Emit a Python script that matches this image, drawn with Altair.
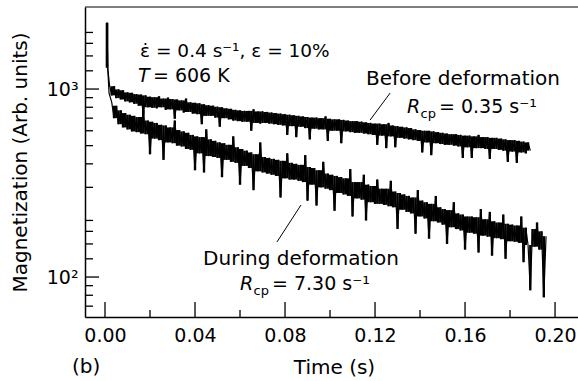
import altair as alt
import pandas as pd

# ---------------- data ----------------
STEP = 0.001  # sampling interval of the traces (s)

spike_t = [0.0009, 0.0012, 0.0018]
spike_v = [2250, 1300, 950]

upper_start = 0.002  # "Before deformation"
upper_v = [
    1050, 925, 1035, 895, 995, 880, 985, 860, 960, 850,
    955, 835, 940, 815, 935, 730, 925, 800, 910, 795,
    905, 790, 915, 800, 890, 775, 900, 780, 885, 695,
    880, 770, 870, 750, 890, 755, 850, 740, 845, 735,
    840, 650, 830, 720, 820, 720, 815, 705, 805, 630,
    800, 700, 790, 690, 785, 680, 775, 675, 770, 670,
    765, 670, 765, 600, 780, 660, 760, 655, 760, 660,
    755, 655, 750, 650, 745, 645, 740, 640, 735, 570,
    730, 635, 725, 555, 720, 630, 715, 620, 710, 540,
    705, 615, 705, 610, 700, 610, 715, 530, 695, 600,
    690, 600, 690, 515, 685, 595, 680, 590, 675, 585,
    675, 585, 670, 580, 665, 575, 660, 570, 655, 505,
    655, 565, 650, 485, 660, 560, 640, 490, 635, 550,
    630, 545, 625, 540, 620, 535, 610, 530, 605, 460,
    600, 520, 600, 445, 595, 515, 590, 510, 585, 505,
    580, 505, 575, 500, 575, 495, 570, 430, 565, 490,
    565, 430, 560, 485, 570, 485, 555, 480, 555, 425,
    550, 480, 550, 475, 545, 470, 540, 410, 535, 465,
    535, 405, 530, 460, 525, 455, 520, 470,
]

lower_start = 0.003  # "During deformation"
lower_v = [
    850, 700, 815, 650, 770, 625, 745, 610, 730, 595,
    720, 590, 710, 580, 770, 575, 680, 450, 670, 545,
    660, 535, 645, 420, 640, 520, 625, 515, 680, 500,
    605, 495, 595, 480, 585, 475, 570, 370, 560, 455,
    555, 360, 610, 440, 540, 435, 530, 430, 520, 340,
    515, 420, 505, 410, 560, 405, 490, 310, 480, 390,
    470, 380, 460, 290, 450, 365, 520, 360, 435, 355,
    430, 350, 425, 345, 420, 265, 415, 335, 455, 330,
    405, 330, 400, 325, 395, 320, 445, 255, 385, 310,
    380, 240, 370, 300, 410, 295, 355, 290, 350, 225,
    345, 280, 340, 275, 335, 270, 375, 210, 320, 262,
    320, 258, 350, 200, 310, 250, 305, 245, 330, 245,
    295, 242, 295, 238, 325, 235, 285, 180, 280, 228,
    275, 222, 270, 218, 265, 170, 290, 210, 255, 205,
    250, 160, 245, 198, 270, 195, 235, 190, 230, 150,
    227, 184, 250, 180, 218, 177, 215, 140, 210, 172,
    210, 170, 208, 135, 230, 166, 203, 164, 222, 130,
    198, 161, 195, 159, 215, 125, 192, 155, 190, 154,
    188, 152, 210, 120, 183, 148, 85, 180, 145, 195,
    140, 175, 78, 165,
]

x_ticks_major = [0.0, 0.04, 0.08, 0.12, 0.16, 0.20]
x_ticks_minor = [0.02, 0.06, 0.10, 0.14, 0.18]
y_ticks_major = [100, 1000]
y_ticks_minor = [70, 80, 90, 125, 150, 175, 200, 300, 400, 500, 600,
                 700, 800, 900, 1250, 1500, 1750, 2000]

X_DOMAIN = [-0.00889, 0.2102]
Y_DOMAIN = [61.3, 2731]
W, H = 493, 310
FONT = "DejaVu Sans"

# ---------------- tables ----------------
rows = []
for t, v in zip(spike_t[:2], spike_v[:2]):
    rows.append({"t": t, "v": v, "s": "before"})
for i, v in enumerate(upper_v):
    rows.append({"t": round(upper_start + i * STEP, 4), "v": v, "s": "before"})
for t, v in zip(spike_t, spike_v):
    rows.append({"t": t, "v": v, "s": "during"})
for i, v in enumerate(lower_v):
    rows.append({"t": round(lower_start + i * STEP, 4), "v": v, "s": "during"})
traces = pd.DataFrame(rows)

xscale = alt.Scale(domain=X_DOMAIN, nice=False, zero=False)
yscale = alt.Scale(type="log", domain=Y_DOMAIN, nice=False)

xaxis = alt.Axis(
    values=x_ticks_major, format=".2f", ticks=False, grid=False,
    domain=True, domainColor="black", domainWidth=1.5,
    labelFont=FONT, labelFontSize=19, labelColor="black", labelPadding=9,
    labelFlush=False,
    title="Time (s)", titleFont=FONT, titleFontSize=20, titleFontWeight="normal",
    titleColor="black", titleX=249, titleY=56, titleBaseline="alphabetic",
    titleAlign="center",
)
yaxis = alt.Axis(
    values=y_ticks_major, labelExpr="datum.value >= 1000 ? '10³' : '10²'",
    ticks=False, grid=False, domain=True, domainColor="black", domainWidth=1.5,
    labelFont=FONT, labelFontSize=19, labelColor="black", labelPadding=7,
    title="Magnetization (Arb. units)", titleFont=FONT, titleFontSize=20,
    titleFontWeight="normal", titleColor="black", titleAngle=270,
    titleX=-65, titleY=155, titleAlign="center", titleBaseline="middle",
)
X = alt.X("t:Q", scale=xscale, axis=xaxis)
Y = alt.Y("v:Q", scale=yscale, axis=yaxis)

# dense noisy band: the core spread between neighbouring samples (isolated
# spikes are left to the thin trace drawn on top)
srt = [{"field": "t"}]
band = alt.Chart(traces).transform_window(
    a="min(v)", b="max(v)", frame=[0, 1], groupby=["s"], sort=srt
).transform_window(
    lo="max(a)", hi="min(b)", frame=[-1, 0], groupby=["s"], sort=srt
).mark_rule(color="black", strokeWidth=2.4, clip=True).encode(
    x=X, y=alt.Y("lo:Q", scale=yscale, axis=yaxis), y2="hi:Q"
)

lines = alt.Chart(traces).mark_line(color="black", strokeWidth=1.2, clip=True).encode(
    x=X, y=Y, detail="s:N", order="t:Q"
)

top = alt.Chart(pd.DataFrame({"a": [0]})).mark_rule(color="black", strokeWidth=1.2).encode(
    x=alt.value(0), x2=alt.value(W), y=alt.value(0)
)

xmaj = alt.Chart(pd.DataFrame({"t": x_ticks_major})).mark_rule(color="black", strokeWidth=1.3).encode(
    x=X, y=alt.value(H), y2=alt.value(H - 15)
)
xmin = alt.Chart(pd.DataFrame({"t": x_ticks_minor})).mark_rule(color="black", strokeWidth=1.3).encode(
    x=X, y=alt.value(H), y2=alt.value(H - 7)
)
ymaj = alt.Chart(pd.DataFrame({"v": y_ticks_major})).mark_rule(color="black", strokeWidth=1.3).encode(
    y=Y, x=alt.value(0), x2=alt.value(14)
)
ymin = alt.Chart(pd.DataFrame({"v": y_ticks_minor})).mark_rule(color="black", strokeWidth=1.3).encode(
    y=Y, x=alt.value(0), x2=alt.value(8)
)

# annotations (positions in data units)
leaders = pd.DataFrame({
    "t": [0.1267, 0.0871], "v": [952, 241.6],
    "t2": [0.1178, 0.0764], "v2": [684, 153.5],
})
lead = alt.Chart(leaders).mark_rule(color="black", strokeWidth=1).encode(
    x=X, y=Y, x2="t2:Q", y2="v2:Q"
)

def text_layer(df, size, style="normal", dx=0, dy=0):
    return alt.Chart(df).mark_text(
        font=FONT, fontSize=size, fontStyle=style, color="black",
        align="left", baseline="alphabetic", dx=dx, dy=dy,
    ).encode(x=X, y=Y, text="txt:N")

cond_txt = pd.DataFrame({"t": [0.0156], "v": [1480], "txt": ["ε\u0307 = 0.4 s⁻¹, ε = 10%"]})
temp_T = pd.DataFrame({"t": [0.0147], "v": [1089], "txt": ["T"]})
temp_rest = pd.DataFrame({"t": [0.0213], "v": [1089], "txt": ["= 606 K"]})
names = pd.DataFrame({"t": [0.1160, 0.0436], "v": [1050, 115.8],
                      "txt": ["Before deformation", "During deformation"]})
r_pos = pd.DataFrame({"t": [0.1342, 0.0600], "v": [745, 85.3]})
r_main = r_pos.assign(txt=["R", "R"])
r_sub = r_pos.assign(txt=["cp", "cp"])
r_rest = r_pos.assign(txt=["= 0.35 s⁻¹", "= 7.30 s⁻¹"])

texts = [
    text_layer(cond_txt, 18.5),
    text_layer(temp_T, 19, "italic"),
    text_layer(temp_rest, 19),
    text_layer(names, 20),
    text_layer(r_main, 19, "italic"),
    text_layer(r_sub, 13, dx=13.5, dy=5),
    text_layer(r_rest, 19, dx=32),
]

panel = alt.Chart(pd.DataFrame({"txt": ["(b)"]})).mark_text(
    font=FONT, fontSize=20, color="black", align="left", baseline="alphabetic"
).encode(x=alt.value(-13), y=alt.value(366), text="txt:N")

chart = alt.layer(
    band, lines, top, xmaj, xmin, ymaj, ymin, lead, *texts, panel
).properties(
    width=W, height=H,
    autosize=alt.AutoSizeParams(type="none"),
    padding={"left": 85, "top": 7, "right": 0, "bottom": 64},
    background="white",
).configure_view(stroke=None)

chart.save("out.html", embed_options={"renderer": "svg", "actions": False})
